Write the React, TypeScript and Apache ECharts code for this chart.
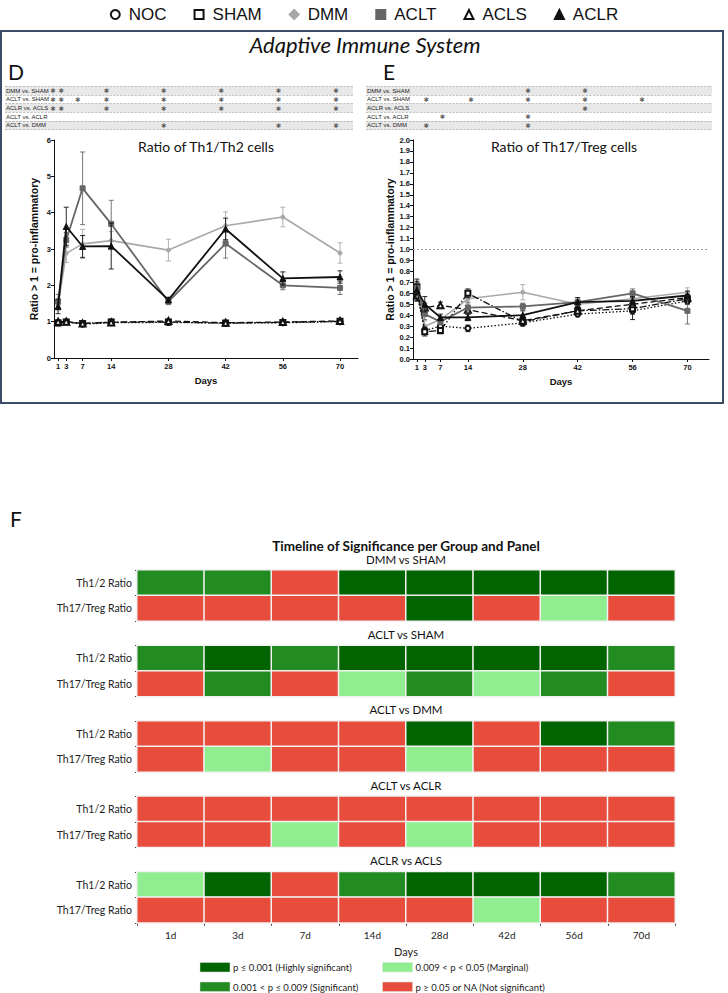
import React, { useEffect, useRef } from "react";
import * as echarts from "echarts";

// ---- time points ----
const days = [1, 3, 7, 14, 28, 42, 56, 70];
const groupNames = ["NOC", "SHAM", "DMM", "ACLT", "ACLS", "ACLR"];

// ---- Th1/Th2 ratio: means ----
const th12NOC = [0.97, 1.0, 0.93, 0.97, 0.98, 0.96, 0.97, 1.0];
const th12SHAM = [0.96, 0.99, 0.95, 0.99, 0.99, 0.96, 0.98, 1.01];
const th12DMM = [1.45, 2.88, 3.14, 3.23, 2.97, 3.64, 3.88, 2.89];
const th12ACLT = [1.55, 3.25, 4.67, 3.69, 1.55, 3.15, 2.0, 1.93];
const th12ACLS = [1.0, 1.0, 0.95, 0.98, 1.02, 0.97, 0.99, 1.02];
const th12ACLR = [1.42, 3.62, 3.07, 3.08, 1.6, 3.55, 2.19, 2.23];
// ---- Th1/Th2 ratio: SEM ----
const th12NOCerr = [0.08, 0.03, 0.03, 0.05, 0.04, 0.03, 0.04, 0.04];
const th12SHAMerr = [0.06, 0.03, 0.02, 0.08, 0.05, 0.03, 0.05, 0.05];
const th12DMMerr = [0.15, 0.25, 0.4, 0.25, 0.3, 0.38, 0.27, 0.28];
const th12ACLTerr = [0.2, 0.2, 1.0, 0.65, 0.08, 0.4, 0.12, 0.18];
const th12ACLSerr = [0.05, 0.03, 0.03, 0.04, 0.05, 0.03, 0.03, 0.03];
const th12ACLRerr = [0.2, 0.53, 0.3, 0.63, 0.07, 0.3, 0.18, 0.17];

// ---- Th17/Treg ratio: means ----
const th17NOC = [0.6, 0.26, 0.3, 0.28, 0.33, 0.41, 0.44, 0.53];
const th17SHAM = [0.66, 0.25, 0.26, 0.6, 0.34, 0.44, 0.46, 0.55];
const th17DMM = [0.6, 0.3, 0.36, 0.55, 0.61, 0.5, 0.55, 0.61];
const th17ACLT = [0.65, 0.41, 0.34, 0.47, 0.48, 0.52, 0.6, 0.44];
const th17ACLS = [0.58, 0.47, 0.49, 0.45, 0.35, 0.44, 0.5, 0.56];
const th17ACLR = [0.63, 0.5, 0.38, 0.38, 0.4, 0.52, 0.53, 0.58];
// ---- Th17/Treg ratio: SEM ----
const th17NOCerr = [0.05, 0.03, 0.03, 0.03, 0.03, 0.02, 0.03, 0.03];
const th17SHAMerr = [0.05, 0.04, 0.03, 0.04, 0.03, 0.02, 0.1, 0.04];
const th17DMMerr = [0.06, 0.05, 0.03, 0.04, 0.07, 0.03, 0.04, 0.04];
const th17ACLTerr = [0.05, 0.05, 0.03, 0.05, 0.03, 0.04, 0.04, 0.12];
const th17ACLSerr = [0.05, 0.04, 0.03, 0.04, 0.03, 0.03, 0.03, 0.03];
const th17ACLRerr = [0.1, 0.07, 0.03, 0.03, 0.04, 0.04, 0.04, 0.04];

// ---- significance tables above the line charts (days with *) ----
const compRows = ["DMM vs. SHAM", "ACLT vs. SHAM", "ACLR vs. ACLS", "ACLT vs. ACLR", "ACLT vs. DMM"];
const th12Stars = [
  [1, 3, 14, 28, 42, 56, 70],
  [1, 3, 7, 14, 28, 42, 56, 70],
  [1, 3, 14, 28, 42, 56, 70],
  [],
  [28, 56, 70],
];
const th17Stars = [[28, 42], [3, 14, 28, 42, 56], [42], [7, 28], [3, 28]];

// ---- significance timeline (0 = n.s., 1 = marginal, 2 = significant, 3 = highly) ----
const dayLabels = ["1d", "3d", "7d", "14d", "28d", "42d", "56d", "70d"];
const panels = ["Th1/2 Ratio", "Th17/Treg Ratio"];
const comparisons = ["DMM vs SHAM", "ACLT vs SHAM", "ACLT vs DMM", "ACLT vs ACLR", "ACLR vs ACLS"];
const sigDMMvsSHAM = [[2, 2, 0, 3, 3, 3, 3, 3], [0, 0, 0, 0, 3, 0, 1, 0]];
const sigACLTvsSHAM = [[2, 3, 2, 3, 3, 3, 3, 2], [0, 2, 0, 1, 2, 1, 2, 0]];
const sigACLTvsDMM = [[0, 0, 0, 0, 3, 0, 3, 2], [0, 1, 0, 0, 1, 0, 0, 0]];
const sigACLTvsACLR = [[0, 0, 0, 0, 0, 0, 0, 0], [0, 0, 1, 0, 1, 0, 0, 0]];
const sigACLRvsACLS = [[1, 3, 0, 2, 3, 3, 3, 2], [0, 0, 0, 0, 0, 1, 0, 0]];
const sigLevelLabels = [
  "p \u2265 0.05 or NA (Not significant)",
  "0.009 < p < 0.05 (Marginal)",
  "0.001 < p \u2264 0.009 (Significant)",
  "p \u2264 0.001 (Highly significant)",
];

const SANS = "'Liberation Sans', Arial, sans-serif";
const NARROW = "'Liberation Sans Narrow', 'Liberation Sans', Arial, sans-serif";
const HUMAN = "Lato, 'Open Sans', sans-serif";

const sigColors = ["#e74c3c", "#90ee90", "#228b22", "#006400"];

const looks: Record<string, any> = {
  NOC: { color: "#111", type: [1.5, 2], width: 1.3, symbol: "emptyCircle", size: 5, legend: "emptyCircle", z: 3 },
  SHAM: { color: "#111", type: [7, 2, 1.5, 2], width: 1.3, symbol: "emptyRect", size: 5, legend: "emptyRect", z: 3 },
  DMM: { color: "#a8a8a8", type: "solid", width: 1.6, symbol: "circle", size: 4, legend: "diamond", z: 2 },
  ACLT: { color: "#666666", type: "solid", width: 1.8, symbol: "rect", size: 5, legend: "rect", z: 4 },
  ACLS: { color: "#111", type: [6, 3], width: 1.3, symbol: "emptyTriangle", size: 6, legend: "emptyTriangle", z: 3 },
  ACLR: { color: "#111", type: "solid", width: 1.8, symbol: "triangle", size: 6, legend: "triangle", z: 5 },
};

function buildOption() {
  const th12: Record<string, number[][]> = {
    NOC: [th12NOC, th12NOCerr], SHAM: [th12SHAM, th12SHAMerr], DMM: [th12DMM, th12DMMerr],
    ACLT: [th12ACLT, th12ACLTerr], ACLS: [th12ACLS, th12ACLSerr], ACLR: [th12ACLR, th12ACLRerr],
  };
  const th17: Record<string, number[][]> = {
    NOC: [th17NOC, th17NOCerr], SHAM: [th17SHAM, th17SHAMerr], DMM: [th17DMM, th17DMMerr],
    ACLT: [th17ACLT, th17ACLTerr], ACLS: [th17ACLS, th17ACLSerr], ACLR: [th17ACLR, th17ACLRerr],
  };
  const sigSets = [sigDMMvsSHAM, sigACLTvsSHAM, sigACLTvsDMM, sigACLTvsACLR, sigACLRvsACLS];

  const grids: any[] = [
    { left: 5, top: 86.5, width: 348, height: 43 }, // D table
    { left: 366, top: 86.5, width: 346, height: 43 }, // E table
    { left: 54, top: 140, width: 304, height: 218 }, // D chart
    { left: 413, top: 140, width: 296, height: 219 }, // E chart
  ];
  const hmTop0 = 570;
  const hmStep = 75.45;
  comparisons.forEach((_, i) => grids.push({ left: 137, width: 538, top: hmTop0 + i * hmStep, height: 51 }));

  const tableY = (gi: number) => ({
    type: "category", gridIndex: gi, data: compRows, inverse: true,
    axisLine: { show: false }, axisTick: { show: false },
    axisLabel: { inside: true, fontSize: 6, color: "#222", margin: 1, fontFamily: SANS },
    splitArea: { show: true, areaStyle: { color: ["#e8e8e8", "#ffffff"] } },
    splitLine: { show: true, lineStyle: { type: "dashed", color: "#9c9c9c", width: 0.6 } },
  });

  const lineX = (gi: number, max: number) => ({
    type: "value", gridIndex: gi, min: 0, max,
    axisLine: { show: true, onZero: false, lineStyle: { color: "#111", width: 1 } },
    axisTick: { show: true, customValues: days, length: 3, lineStyle: { color: "#111" } },
    axisLabel: { customValues: days, fontSize: 7.5, fontWeight: "bold", color: "#111", margin: 4, fontFamily: SANS },
    splitLine: { show: false },
    name: "Days", nameLocation: "middle", nameGap: 17,
    nameTextStyle: { fontSize: 9.5, fontWeight: "bold", color: "#111", fontFamily: NARROW },
  });

  const lineY = (gi: number, max: number, interval: number, decimals: number, gap: number) => ({
    type: "value", gridIndex: gi, min: 0, max, interval,
    axisLine: { show: true, lineStyle: { color: "#111", width: 1 } },
    axisTick: { show: true, length: 3, lineStyle: { color: "#111" } },
    axisLabel: {
      fontSize: 7.5, fontWeight: "bold", color: "#111", margin: 3, fontFamily: SANS,
      formatter: (v: number) => v.toFixed(decimals),
    },
    splitLine: { show: false },
    name: "Ratio > 1 = pro-inflammatory", nameLocation: "middle", nameGap: gap, nameRotate: 90,
    nameTextStyle: { fontSize: 10.5, fontWeight: "bold", color: "#111", fontFamily: NARROW },
  });

  const xAxes: any[] = [
    { type: "value", gridIndex: 0, min: -10.73, max: 74.15, show: false },
    { type: "value", gridIndex: 1, min: -11.79, max: 73.2, show: false },
    lineX(2, 74.4),
    lineX(3, 75.5),
  ];
  const yAxes: any[] = [tableY(0), tableY(1), lineY(2, 6, 1, 0, 15), lineY(3, 2, 0.1, 1, 16)];

  comparisons.forEach((_, i) => {
    const last = i === comparisons.length - 1;
    xAxes.push({
      type: "category", gridIndex: 4 + i, data: dayLabels,
      axisLine: { show: false },
      axisTick: { show: last, length: 3, lineStyle: { color: "#444" } },
      axisLabel: { show: last, fontSize: 10, color: "#222", margin: 7, fontFamily: HUMAN },
      splitLine: { show: false },
      name: last ? "Days" : "", nameLocation: "middle", nameGap: 23,
      nameTextStyle: { fontSize: 11, color: "#222", fontFamily: HUMAN },
    });
    yAxes.push({
      type: "category", gridIndex: 4 + i, data: panels, inverse: true,
      axisLine: { show: false },
      axisTick: { show: true, length: 2, lineStyle: { color: "#444" } },
      axisLabel: { fontSize: 10.5, color: "#222", margin: 5, fontFamily: HUMAN },
      splitLine: { show: false },
    });
  });

  const series: any[] = [];

  // asterisks of the two significance tables
  const starSeries = (gi: number, stars: number[][]) => ({
    type: "scatter", xAxisIndex: gi, yAxisIndex: gi, silent: true,
    symbolSize: 1, itemStyle: { color: "rgba(0,0,0,0)" },
    label: {
      show: true, position: "inside", formatter: "\u2731", fontSize: 6.5, color: "#3a3a3a",
      offset: [0, 0.5], fontFamily: "'DejaVu Sans', sans-serif",
    },
    data: stars.flatMap((row, r) => row.map((d) => [d, compRows[r]])),
  });
  series.push(starSeries(0, th12Stars), starSeries(1, th17Stars));

  const errorSeries = (gi: number, name: string, means: number[], errs: number[]) => {
    const lk = looks[name];
    return {
      type: "custom", xAxisIndex: gi, yAxisIndex: gi, silent: true, z: lk.z - 0.5,
      data: days.map((d, i) => [d, means[i] - errs[i], means[i] + errs[i]]),
      encode: { x: 0, y: [1, 2] },
      renderItem: (params: any, api: any) => {
        const x = api.value(0);
        const lo = api.coord([x, api.value(1)]);
        const hi = api.coord([x, api.value(2)]);
        const w = 2.5;
        const style = { stroke: lk.color, lineWidth: 0.9, fill: "none" };
        return {
          type: "group",
          children: [
            { type: "line", shape: { x1: lo[0], y1: lo[1], x2: hi[0], y2: hi[1] }, style },
            { type: "line", shape: { x1: hi[0] - w, y1: hi[1], x2: hi[0] + w, y2: hi[1] }, style },
            { type: "line", shape: { x1: lo[0] - w, y1: lo[1], x2: lo[0] + w, y2: lo[1] }, style },
          ],
        };
      },
    };
  };

  const lineSeries = (gi: number, name: string, means: number[], extra: any = {}) => {
    const lk = looks[name];
    return {
      type: "line", name, xAxisIndex: gi, yAxisIndex: gi, z: lk.z, silent: true,
      data: days.map((d, i) => [d, means[i]]),
      symbol: lk.symbol, symbolSize: lk.size, showSymbol: true,
      itemStyle: { color: lk.color, borderColor: lk.color, borderWidth: 1 },
      lineStyle: { color: lk.color, type: lk.type, width: lk.width },
      emphasis: { disabled: true },
      ...extra,
    };
  };

  groupNames.forEach((n) => {
    series.push(lineSeries(2, n, th12[n][0]));
  });
  groupNames.forEach((n) => {
    const extra =
      n === "NOC"
        ? {
            markLine: {
              silent: true, symbol: ["none", "none"], label: { show: false },
              lineStyle: { type: [2, 2], color: "#9a9a9a", width: 1 },
              data: [{ yAxis: 1 }],
            },
          }
        : {};
    series.push(lineSeries(3, n, th17[n][0], extra));
  });
  groupNames.forEach((n) => {
    series.push(errorSeries(2, n, th12[n][0], th12[n][1]));
    series.push(errorSeries(3, n, th17[n][0], th17[n][1]));
  });

  // significance timeline heatmaps
  const hmIdx: number[] = [];
  sigSets.forEach((set, i) => {
    hmIdx.push(series.length);
    series.push({
      type: "heatmap", xAxisIndex: 4 + i, yAxisIndex: 4 + i, silent: true,
      itemStyle: { borderColor: "#f2f2f2", borderWidth: 1.5 },
      emphasis: { disabled: true },
      data: set.flatMap((row, r) => row.map((lvl, c) => [c, r, lvl])),
    });
  });

  const graphic: any[] = [
    // frame around the adaptive immune system panels
    { type: "rect", shape: { x: 1, y: 31, width: 722, height: 372 }, style: { fill: "none", stroke: "#3d4b6a", lineWidth: 2 }, z: 0 },
    { type: "text", x: 365, y: 44, style: { text: "Adaptive Immune System", font: `italic 22px ${HUMAN}`, fill: "#111", align: "center", verticalAlign: "middle" } },
    { type: "text", x: 8, y: 82, style: { text: "D", font: `21px ${HUMAN}`, fill: "#111", verticalAlign: "bottom" } },
    { type: "text", x: 383, y: 82, style: { text: "E", font: `21px ${HUMAN}`, fill: "#111", verticalAlign: "bottom" } },
    { type: "text", x: 206, y: 146, style: { text: "Ratio of Th1/Th2 cells", font: `14px ${HUMAN}`, fill: "#111", align: "center", verticalAlign: "middle" } },
    { type: "text", x: 564, y: 146, style: { text: "Ratio of Th17/Treg cells", font: `14px ${HUMAN}`, fill: "#111", align: "center", verticalAlign: "middle" } },
    { type: "text", x: 10, y: 529, style: { text: "F", font: `21px ${HUMAN}`, fill: "#111", verticalAlign: "bottom" } },
    { type: "text", x: 406, y: 546, style: { text: "Timeline of Significance per Group and Panel", font: `bold 13.5px ${HUMAN}`, fill: "#111", align: "center", verticalAlign: "middle" } },
  ];
  comparisons.forEach((c, i) => {
    graphic.push({
      type: "text", x: 406, y: hmTop0 + i * hmStep - 11,
      style: { text: c, font: `11.5px ${HUMAN}`, fill: "#111", align: "center", verticalAlign: "middle" },
    });
  });
  // colour key of the timeline (column-major: highly, significant | marginal, n.s.)
  const keyOrder = [3, 2, 1, 0];
  keyOrder.forEach((lvl, k) => {
    const col = Math.floor(k / 2);
    const row = k % 2;
    const sx = col === 0 ? 200 : 382.5;
    const sy = row === 0 ? 962.5 : 982;
    graphic.push({ type: "rect", shape: { x: sx, y: sy, width: 30, height: 9.5 }, style: { fill: sigColors[lvl], stroke: "#dcdcdc", lineWidth: 0.5 } });
    graphic.push({ type: "text", x: sx + 33, y: sy + 5, style: { text: sigLevelLabels[lvl], font: `9.5px ${HUMAN}`, fill: "#222", verticalAlign: "middle" } });
  });

  return {
    animation: false,
    backgroundColor: "#ffffff",
    textStyle: { fontFamily: SANS },
    legend: {
      top: 1, left: "center", itemWidth: 9, itemHeight: 9, itemGap: 27,
      selectedMode: false,
      textStyle: { fontSize: 17, color: "#111", fontFamily: SANS, padding: [0, 0, 0, 4] },
      data: groupNames.map((n) => ({ name: n, icon: looks[n].legend })),
    },
    grid: grids,
    xAxis: xAxes,
    yAxis: yAxes,
    visualMap: {
      type: "piecewise", show: false, dimension: 2, seriesIndex: hmIdx,
      pieces: sigColors.map((c, i) => ({ value: i, color: c })),
    },
    series,
    graphic,
  };
}

export default function App() {
  const ref = useRef<HTMLDivElement>(null);
  useEffect(() => {
    if (!ref.current) return;
    const chart = echarts.init(ref.current, null, { renderer: "svg" });
    chart.setOption(buildOption());
    return () => chart.dispose();
  }, []);
  return (
    <div
      ref={ref}
      style={{ position: "absolute", left: 0, top: 0, width: 728, height: 993, background: "#fff" }}
    />
  );
}
